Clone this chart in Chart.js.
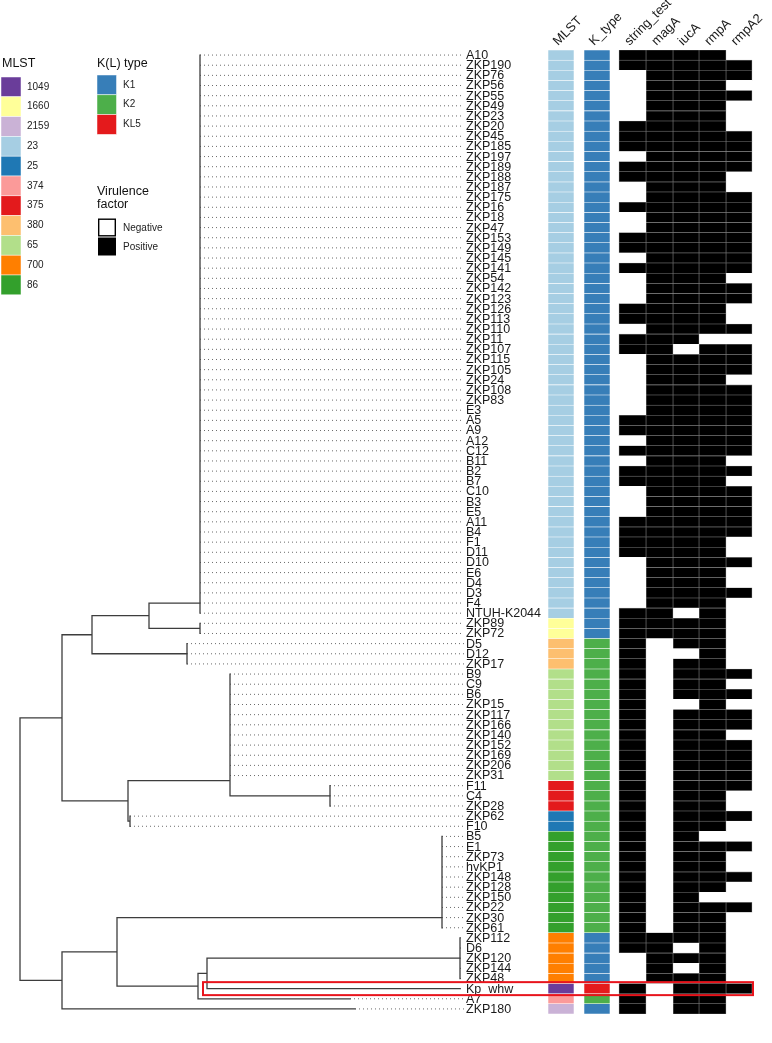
<!DOCTYPE html>
<html>
<head>
<meta charset="utf-8">
<title>Phylogeny with MLST, K type and virulence factors</title>
<script src="https://cdn.jsdelivr.net/npm/chart.js@4.4.1/dist/chart.umd.min.js"></script>
<style>
  html, body { margin: 0; padding: 0; background: #fff; }
  #box { position: relative; width: 772px; height: 1043px; }
</style>
</head>
<body>
<div id="box"><canvas id="chart"></canvas></div>
<script>
// tip order, top to bottom
const tips = [
  'A10','ZKP190','ZKP76','ZKP56','ZKP55','ZKP49','ZKP23','ZKP20','ZKP45','ZKP185',
  'ZKP197','ZKP189','ZKP188','ZKP187','ZKP175','ZKP16','ZKP18','ZKP47','ZKP153','ZKP149',
  'ZKP145','ZKP141','ZKP54','ZKP142','ZKP123','ZKP126','ZKP113','ZKP110','ZKP11','ZKP107',
  'ZKP115','ZKP105','ZKP24','ZKP108','ZKP83','E3','A5','A9','A12','C12',
  'B11','B2','B7','C10','B3','E5','A11','B4','F1','D11',
  'D10','E6','D4','D3','F4','NTUH-K2044','ZKP89','ZKP72','D5','D12',
  'ZKP17','B9','C9','B6','ZKP15','ZKP117','ZKP166','ZKP140','ZKP152','ZKP169',
  'ZKP206','ZKP31','F11','C4','ZKP28','ZKP62','F10','B5','E1','ZKP73',
  'hvKP1','ZKP148','ZKP128','ZKP150','ZKP22','ZKP30','ZKP61','ZKP112','D6','ZKP120',
  'ZKP144','ZKP48','Kp_whw','A7','ZKP180'
];

const mlst = [
  '23','23','23','23','23','23','23','23','23','23',
  '23','23','23','23','23','23','23','23','23','23',
  '23','23','23','23','23','23','23','23','23','23',
  '23','23','23','23','23','23','23','23','23','23',
  '23','23','23','23','23','23','23','23','23','23',
  '23','23','23','23','23','23','1660','1660','380','380',
  '380','65','65','65','65','65','65','65','65','65',
  '65','65','375','375','375','25','25','86','86','86',
  '86','86','86','86','86','86','86','700','700','700',
  '700','700','1049','374','2159'
];

const kType = [
  'K1','K1','K1','K1','K1','K1','K1','K1','K1','K1',
  'K1','K1','K1','K1','K1','K1','K1','K1','K1','K1',
  'K1','K1','K1','K1','K1','K1','K1','K1','K1','K1',
  'K1','K1','K1','K1','K1','K1','K1','K1','K1','K1',
  'K1','K1','K1','K1','K1','K1','K1','K1','K1','K1',
  'K1','K1','K1','K1','K1','K1','K1','K1','K2','K2',
  'K2','K2','K2','K2','K2','K2','K2','K2','K2','K2',
  'K2','K2','K2','K2','K2','K2','K2','K2','K2','K2',
  'K2','K2','K2','K2','K2','K2','K2','K1','K1','K1',
  'K1','K1','KL5','K2','K1'
];

// virulence factors, 1 = positive
const stringTest = [
  1,1,0,0,0,0,0,1,1,1,  0,1,1,0,0,1,0,0,1,1,  0,1,0,0,0,1,1,0,1,1,
  0,0,0,0,0,0,1,1,0,1,  0,1,1,0,0,0,1,1,1,1,  0,0,0,0,0,1,1,1,1,1,
  1,1,1,1,1,1,1,1,1,1,  1,1,1,1,1,1,1,1,1,1,  1,1,1,1,1,1,1,1,1,0,
  0,0,1,1,1
];
const magA = [
  1,1,1,1,1,1,1,1,1,1,  1,1,1,1,1,1,1,1,1,1,  1,1,1,1,1,1,1,1,1,1,
  1,1,1,1,1,1,1,1,1,1,  1,1,1,1,1,1,1,1,1,1,  1,1,1,1,1,1,1,1,0,0,
  0,0,0,0,0,0,0,0,0,0,  0,0,0,0,0,0,0,0,0,0,  0,0,0,0,0,0,0,1,1,1,
  1,1,0,0,0
];
const iucA = [
  1,1,1,1,1,1,1,1,1,1,  1,1,1,1,1,1,1,1,1,1,  1,1,1,1,1,1,1,1,1,0,
  1,1,1,1,1,1,1,1,1,1,  1,1,1,1,1,1,1,1,1,1,  1,1,1,1,1,0,1,1,1,0,
  1,1,1,1,0,1,1,1,1,1,  1,1,1,1,1,1,1,1,1,1,  1,1,1,1,1,1,1,1,0,1,
  0,1,1,1,1
];
const rmpA = [
  1,1,1,1,1,1,1,1,1,1,  1,1,1,1,1,1,1,1,1,1,  1,1,1,1,1,1,1,1,0,1,
  1,1,1,1,1,1,1,1,1,1,  1,1,1,1,1,1,1,1,1,1,  1,1,1,1,1,1,1,1,1,1,
  1,1,1,1,1,1,1,1,1,1,  1,1,1,1,1,1,1,0,1,1,  1,1,1,0,1,1,1,1,1,1,
  1,1,1,1,1
];
const rmpA2 = [
  0,1,1,0,1,0,0,0,1,1,  1,1,0,0,1,1,1,1,1,1,  1,1,0,1,1,0,0,1,0,1,
  1,1,0,1,1,1,1,1,1,1,  0,1,0,1,1,1,1,1,0,0,  1,0,0,1,0,0,0,0,0,0,
  0,1,0,1,0,1,1,0,1,1,  1,1,1,0,0,1,0,0,1,0,  0,1,0,0,1,0,0,0,0,0,
  0,0,1,0,0
];

const mlstLevels = ['1049','1660','2159','23','25','374','375','380','65','700','86'];
const kLevels = ['K1','K2','KL5'];
const columnNames = ['MLST','K_type','string_test','magA','iucA','rmpA','rmpA2'];

// tree, branch depth from the root
const clade = (x, kids) => ({x, kids});
const tip = (name, x) => ({name, x});
const leaves = (names, x) => names.map(n => tip(n, x));
// ladder of zero-length nodes, as the tree draws unresolved groups
function comb(x, kids) {
  let n = kids[0];
  for (let i = 1; i < kids.length; i++) n = clade(x, [n, kids[i]]);
  return n;
}

const tree = clade(0, [
  clade(0.42, [
    clade(0.72, [
      clade(1.29, [
        comb(1.80, leaves(tips.slice(0, 56), 1.80)),
        clade(1.80, leaves(['ZKP89','ZKP72'], 1.80))
      ]),
      clade(1.67, leaves(['D5','D12','ZKP17'], 1.67))
    ]),
    clade(1.08, [
      comb(2.10, [
        ...leaves(['B9','C9','B6','ZKP15','ZKP117','ZKP166','ZKP140','ZKP152','ZKP169','ZKP206','ZKP31'], 2.10),
        clade(3.10, leaves(['F11','C4','ZKP28'], 3.10))
      ]),
      clade(1.10, leaves(['ZKP62','F10'], 1.10))
    ])
  ]),
  clade(0.42, [
    clade(0.97, [
      comb(4.22, leaves(['B5','E1','ZKP73','hvKP1','ZKP148','ZKP128','ZKP150','ZKP22','ZKP30','ZKP61'], 4.22)),
      clade(1.78, [
        clade(1.87, [
          clade(4.40, leaves(['ZKP112','D6','ZKP120','ZKP144','ZKP48'], 4.40)),
          tip('Kp_whw', 4.40)
        ]),
        tip('A7', 3.30)
      ])
    ]),
    tip('ZKP180', 3.35)
  ])
]);

// layout
const leaderEnd = 4.44;
const labelX = 4.46;
const colSpan = [[5.28,5.54],[5.64,5.90],[5.99,6.26],[6.26,6.53],[6.53,6.79],[6.79,7.06],[7.06,7.32]];
const mlstColours = {
  '1049':'#6a3d9a','1660':'#ffff99','2159':'#cab2d6','23':'#a6cee3','25':'#1f78b4',
  '374':'#fb9a99','375':'#e31a1c','380':'#fdbf6f','65':'#b2df8a','700':'#ff7f00','86':'#33a02c'
};
const kColours = {K1:'#377eb8', K2:'#4daf4a', KL5:'#e41a1c'};
const FONT = '"Liberation Sans", Arial, Helvetica, sans-serif';

// node positions: tips by order, inner nodes at the mean of their children
const tipRow = {};
tips.forEach((t, i) => tipRow[t] = i);
function place(n) {
  if (!n.kids) { n.y = tipRow[n.name]; return n.y; }
  const ys = n.kids.map(place);
  n.y = ys.reduce((a, b) => a + b, 0) / ys.length;
  return n.y;
}
place(tree);

const gap = () => ({x: null, y: null});
const branchPts = [];
const leaderPts = [];
function walk(n) {
  if (!n.kids) {
    if (n.x < leaderEnd) leaderPts.push({x: n.x, y: n.y}, {x: leaderEnd, y: n.y}, gap());
    return;
  }
  const ys = n.kids.map(k => k.y);
  branchPts.push({x: n.x, y: Math.min(...ys)}, {x: n.x, y: Math.max(...ys)}, gap());
  n.kids.forEach(k => {
    if (k.x > n.x) branchPts.push({x: n.x, y: k.y}, {x: k.x, y: k.y}, gap());
    walk(k);
  });
}
walk(tree);

function cellSet(span, fills, lines) {
  return {
    type: 'bar',
    indexAxis: 'y',
    grouped: false,
    categoryPercentage: 1,
    barPercentage: 1,
    data: tips.map((t, i) => ({x: span, y: i})),
    backgroundColor: fills,
    borderColor: lines,
    borderWidth: 0.6,
    borderSkipped: false
  };
}

const factors = [stringTest, magA, iucA, rmpA, rmpA2];
const datasets = [
  {
    type: 'line', data: branchPts, borderColor: '#3d3d3d', borderWidth: 1.3,
    pointRadius: 0, spanGaps: false, borderCapStyle: 'square', tension: 0
  },
  {
    type: 'line', data: leaderPts, borderColor: '#6b6b6b', borderWidth: 1,
    borderDash: [1, 3], pointRadius: 0, spanGaps: false, tension: 0
  },
  cellSet(colSpan[0], mlst.map(m => mlstColours[m]), 'rgba(255,255,255,0.6)'),
  cellSet(colSpan[1], kType.map(k => kColours[k]), 'rgba(255,255,255,0.6)')
];
factors.forEach((f, j) => {
  datasets.push(cellSet(colSpan[j + 2],
    f.map(v => v ? '#000000' : '#ffffff'),
    f.map(v => v ? '#7d7d7d' : '#ffffff')));
});

const textLayer = {
  id: 'textLayer',
  afterDatasetsDraw(chart) {
    const {ctx} = chart;
    const {x, y} = chart.scales;
    ctx.save();

    // tip labels
    ctx.fillStyle = '#1a1a1a';
    ctx.font = '12.5px ' + FONT;
    ctx.textBaseline = 'middle';
    ctx.textAlign = 'left';
    tips.forEach((t, i) => ctx.fillText(t, x.getPixelForValue(labelX), y.getPixelForValue(i) + 0.5));

    // column headers
    ctx.font = '13px ' + FONT;
    ctx.textBaseline = 'alphabetic';
    columnNames.forEach((c, j) => {
      const cx = x.getPixelForValue((colSpan[j][0] + colSpan[j][1]) / 2);
      ctx.save();
      ctx.translate(cx - 3, 46);
      ctx.rotate(-Math.PI / 4);
      ctx.fillText(c, 0, 0);
      ctx.restore();
    });

    // highlighted strain
    const r = tipRow['Kp_whw'];
    const y0 = y.getPixelForValue(r - 0.64), y1 = y.getPixelForValue(r + 0.64);
    const x0 = x.getPixelForValue(1.83), x1 = x.getPixelForValue(7.33);
    ctx.strokeStyle = '#e8141c';
    ctx.lineWidth = 2;
    ctx.strokeRect(x0, y0, x1 - x0, y1 - y0);

    // legends
    const step = 19.8;
    ctx.textBaseline = 'middle';
    ctx.fillStyle = '#111';
    ctx.font = '12.5px ' + FONT;
    ctx.fillText('MLST', 2, 64);
    mlstLevels.forEach((lv, i) => {
      const top = 77 + i * step;
      ctx.fillStyle = mlstColours[lv];
      ctx.fillRect(1, top, 20, step);
      ctx.strokeStyle = 'rgba(255,255,255,0.8)';
      ctx.lineWidth = 0.6;
      ctx.strokeRect(1, top, 20, step);
      ctx.fillStyle = '#222';
      ctx.font = '10px ' + FONT;
      ctx.fillText(lv, 27, top + step / 2);
    });

    ctx.fillStyle = '#111';
    ctx.font = '12.5px ' + FONT;
    ctx.fillText('K(L) type', 97, 64);
    kLevels.forEach((k, i) => {
      const top = 75 + i * step;
      ctx.fillStyle = kColours[k];
      ctx.fillRect(97, top, 19.5, step);
      ctx.strokeStyle = 'rgba(255,255,255,0.8)';
      ctx.lineWidth = 0.6;
      ctx.strokeRect(97, top, 19.5, step);
      ctx.fillStyle = '#222';
      ctx.font = '10px ' + FONT;
      ctx.fillText(k, 123, top + step / 2);
    });

    ctx.fillStyle = '#111';
    ctx.font = '12.5px ' + FONT;
    ctx.fillText('Virulence', 97, 192);
    ctx.fillText('factor', 97, 205);
    ['Negative', 'Positive'].forEach((lab, i) => {
      const top = 218.5 + i * 19;
      ctx.fillStyle = i ? '#000' : '#fff';
      ctx.fillRect(98, top, 18, 18);
      ctx.strokeStyle = '#000';
      ctx.lineWidth = 1.4;
      if (!i) ctx.strokeRect(98.7, top + 0.7, 16.6, 16.6);
      ctx.fillStyle = '#222';
      ctx.font = '10px ' + FONT;
      ctx.fillText(lab, 123, top + 9.5);
    });

    ctx.restore();
  }
};

new Chart(document.getElementById('chart'), {
  type: 'line',
  data: {datasets},
  options: {
    responsive: true,
    maintainAspectRatio: false,
    animation: false,
    devicePixelRatio: 1,
    events: [],
    layout: {padding: {top: 50, bottom: 29, left: 0, right: 0}},
    scales: {
      x: {type: 'linear', min: -0.2, max: 7.52, offset: false, display: false},
      y: {type: 'linear', min: -0.5, max: 94.5, reverse: true, offset: false, display: false}
    },
    plugins: {legend: {display: false}, tooltip: {enabled: false}}
  },
  plugins: [textLayer]
});
</script>
</body>
</html>
